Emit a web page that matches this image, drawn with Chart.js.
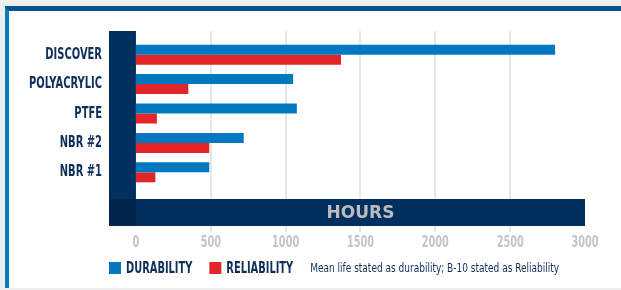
<!DOCTYPE html>
<html>
<head>
<meta charset="utf-8">
<script src="https://cdn.jsdelivr.net/npm/chart.js@4"></script>
<style>
  html, body { margin: 0; padding: 0; background: #eeeeee; }
  #wrap { position: relative; width: 621px; height: 290px; overflow: hidden; }
  #panel {
    position: absolute; left: 5px; top: 6px; width: 640px; height: 282px;
    background: #ffffff; border-left: 4px solid #0a7bb8; border-top: 5px solid #0b5090;
    box-sizing: border-box;
  }
  #chart { position: absolute; left: 0; top: 0; }
</style>
</head>
<body>
<div id="wrap">
  <div id="panel"></div>
  <canvas id="chart" width="621" height="290"></canvas>
</div>
<script>
// datos
const categorias = ['DISCOVER', 'POLYACRYLIC', 'PTFE', 'NBR #2', 'NBR #1'];
const durabilidad = [2800, 1050, 1075, 720, 490];
const fiabilidad = [1370, 350, 140, 490, 130];
const ticksX = [0, 500, 1000, 1500, 2000, 2500, 3000];
const tituloEje = 'HOURS';
const nota = 'Mean life stated as durability; B-10 stated as Reliability';

const azulMarino = '#00305f';
const textoMarino = '#10305a';
const cond = '"DejaVu Sans Condensed", "DejaVu Sans", sans-serif';

// texto estrechado en horizontal (la fuente original es muy condensada)
function textoEstrecho(ctx, texto, x, y, align, sx) {
    ctx.save();
    ctx.translate(x, y);
    ctx.scale(sx, 1);
    ctx.textAlign = align;
    ctx.textBaseline = 'middle';
    ctx.fillText(texto, 0, 0);
    ctx.restore();
}

// Fondo: columna oscura, banda HOURS, rejilla, etiquetas y leyenda
const decorado = {
    id: 'decorado',
    beforeDatasetsDraw(chart) {
        const { ctx, chartArea: a, scales: { x } } = chart;
        const cero = x.getPixelForValue(0);
        const arriba = a.top - 9;
        const bandaTop = a.bottom + 12;
        const bandaBot = a.bottom + 39;
        ctx.save();
        ctx.fillStyle = '#e6e6e6';
        x.ticks.forEach(t => {
            if (t.value <= 0 || t.value >= x.max) return;
            const px = Math.round(x.getPixelForValue(t.value));
            ctx.fillRect(px - 1, arriba, 2, bandaBot + 6 - arriba);
        });
        ctx.fillStyle = azulMarino;
        ctx.fillRect(a.left, arriba, cero - a.left, bandaTop - arriba);
        ctx.fillRect(a.left, bandaTop, a.right - a.left, bandaBot - bandaTop);
        ctx.fillStyle = '#02234a';
        ctx.fillRect(a.left, bandaTop, cero - a.left, bandaBot - bandaTop);
        ctx.fillStyle = '#bcbcbc';
        ctx.font = 'bold 17px "DejaVu Sans"';
        ctx.textAlign = 'center';
        ctx.textBaseline = 'middle';
        ctx.fillText(tituloEje, (cero + a.right) / 2, (bandaTop + bandaBot) / 2 + 1);
        ctx.restore();
    },
    afterDraw(chart) {
        const { ctx, chartArea: a, scales: { x, y } } = chart;
        ctx.save();

        // etiquetas de categorías
        ctx.fillStyle = textoMarino;
        ctx.font = 'bold 16px ' + cond;
        chart.data.labels.forEach((lab, i) => {
            textoEstrecho(ctx, lab, a.left - 7, y.getPixelForValue(i), 'right', 0.69);
        });

        // etiquetas del eje x
        ctx.fillStyle = '#c4c4c4';
        ctx.font = 'bold 15px ' + cond;
        x.ticks.forEach(t => {
            textoEstrecho(ctx, String(t.value), x.getPixelForValue(t.value), a.bottom + 56, 'center', 0.72);
        });

        // leyenda
        let lx = a.left;
        const ly = a.bottom + 75;
        chart.data.datasets.forEach(ds => {
            ctx.fillStyle = ds.backgroundColor;
            ctx.fillRect(lx, ly, 12, 12);
            ctx.fillStyle = textoMarino;
            ctx.font = 'bold 15px ' + cond;
            textoEstrecho(ctx, ds.label, lx + 17, ly + 7, 'left', 0.73);
            lx += 17 + ctx.measureText(ds.label).width * 0.73 + 17;
        });
        ctx.font = '12.5px ' + cond;
        textoEstrecho(ctx, nota, lx, ly + 7, 'left', 0.80);
        ctx.restore();
    }
};

const ctx = document.getElementById('chart').getContext('2d');
new Chart(ctx, {
    type: 'bar',
    data: {
        labels: categorias,
        datasets: [
            { label: 'DURABILITY', data: durabilidad, backgroundColor: '#0078c1' },
            { label: 'RELIABILITY', data: fiabilidad, backgroundColor: '#e1262a' }
        ]
    },
    options: {
        indexAxis: 'y',
        responsive: false,
        animation: false,
        devicePixelRatio: 1,
        categoryPercentage: 0.68,
        barPercentage: 1,
        layout: { padding: { top: 40, right: 36, left: 0, bottom: 0 } },
        plugins: {
            legend: { display: false },
            tooltip: { enabled: false }
        },
        scales: {
            x: {
                type: 'linear',
                min: -180,
                max: 3000,
                afterBuildTicks: s => { s.ticks = ticksX.map(v => ({ value: v })); },
                afterFit: s => { s.height = 103; },
                grid: { display: false, drawTicks: false },
                border: { display: false },
                ticks: { display: false }
            },
            y: {
                afterFit: s => { s.width = 109; },
                grid: { display: false, drawTicks: false },
                border: { display: false },
                ticks: { display: false }
            }
        }
    },
    plugins: [decorado]
});
</script>
</body>
</html>
